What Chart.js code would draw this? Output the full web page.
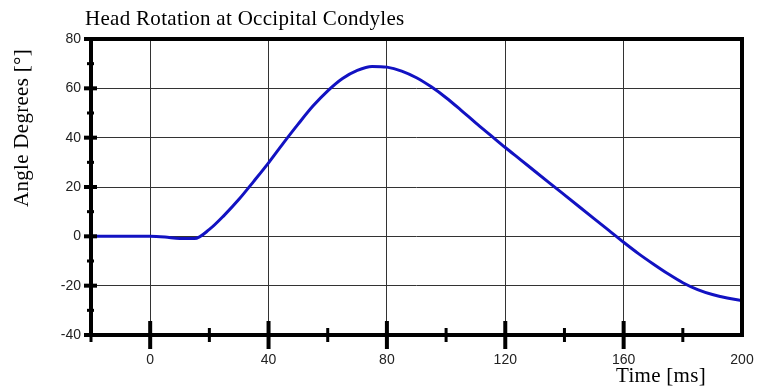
<!DOCTYPE html>
<html>
<head>
<meta charset="utf-8">
<script src="https://cdn.jsdelivr.net/npm/chart.js@4"></script>
<style>
  html, body { margin: 0; padding: 0; background: #fff; }
  #wrap { width: 757px; height: 387px; }
</style>
</head>
<body>
<div id="wrap"><canvas id="rotChart"></canvas></div>
<script>
const timeMs = [-20, -15, -10, -5, 0, 5, 10, 15, 20, 25, 30, 35, 40, 45, 50, 55, 60, 65, 70, 75,
    80, 85, 90, 95, 100, 105, 110, 115, 120, 125, 130, 135, 140, 145, 150, 155, 160, 165, 170,
    175, 180, 185, 190, 195, 200];
const angleDeg = [0, 0, 0, 0, 0, -0.3, -0.9, -0.9, 2.8, 8.5, 15, 22.3, 29.8, 37.8, 45.5, 52.8,
    59, 64, 67.3, 68.9, 68.6, 67, 64.3, 60.6, 56.2, 51.2, 46, 41, 36, 31.2, 26.4, 21.6, 16.8, 12,
    7.2, 2.4, -2.4, -7, -11.2, -15.2, -18.8, -21.6, -23.6, -25, -26];

const xTickValues = [0, 40, 80, 120, 160, 200];
const xMinorTicks = [-20, 20, 60, 100, 140, 180];
const yTickValues = [-40, -20, 0, 20, 40, 60, 80];
const yMinorTicks = [-30, -10, 10, 30, 50, 70];

const chartTitle = 'Head Rotation at Occipital Condyles';
const yTitle = 'Angle Degrees [°]';
const xTitle = 'Time [ms]';

const serif = "'Liberation Serif', 'Times New Roman', serif";
const narrow = "'Liberation Sans Narrow', 'Arial Narrow', sans-serif";

// heavy frame, tick marks and the three titles
const framePlugin = {
    id: 'frame',
    afterDraw(chart) {
        const { ctx, chartArea: a, scales } = chart;
        const xs = scales.x, ys = scales.y;
        ctx.save();
        ctx.strokeStyle = '#000';
        ctx.lineCap = 'butt';

        const line = (x1, y1, x2, y2, w) => {
            ctx.lineWidth = w;
            ctx.beginPath();
            ctx.moveTo(x1, y1);
            ctx.lineTo(x2, y2);
            ctx.stroke();
        };

        // box
        line(a.left - 2, a.top, a.right + 2, a.top, 4);
        line(a.right, a.top, a.right, a.bottom, 4);
        line(a.left - 2, a.bottom, a.right + 2, a.bottom, 4);
        line(a.left, a.top - 2, a.left, a.bottom, 4);

        // y ticks
        yTickValues.forEach(v => {
            const y = ys.getPixelForValue(v);
            line(a.left - 7, y, a.left + 6, y, 4);
        });
        yMinorTicks.forEach(v => {
            const y = ys.getPixelForValue(v);
            line(a.left - 4, y, a.left + 3, y, 3);
        });

        // x ticks
        xTickValues.forEach(v => {
            if (v === 200) return;
            const x = xs.getPixelForValue(v);
            line(x, a.bottom - 14, x, a.bottom + 14, 4);
        });
        xMinorTicks.forEach(v => {
            const x = xs.getPixelForValue(v);
            line(x, a.bottom - 7, x, a.bottom + 7, 3);
        });

        // titles
        ctx.fillStyle = '#000';
        ctx.font = '21px ' + serif;
        ctx.textBaseline = 'alphabetic';
        ctx.textAlign = 'left';
        ctx.letterSpacing = '0.3px';
        ctx.fillText(chartTitle, 85, 25);

        ctx.textAlign = 'center';
        ctx.fillText(xTitle, 661, 382);

        ctx.translate(28, 128);
        ctx.rotate(-Math.PI / 2);
        ctx.fillText(yTitle, 0, 0);
        ctx.restore();
    }
};

new Chart(document.getElementById('rotChart'), {
    type: 'line',
    data: {
        datasets: [{
            data: timeMs.map((t, i) => ({ x: t, y: angleDeg[i] })),
            borderColor: '#1212c2',
            borderWidth: 3,
            pointRadius: 0,
            cubicInterpolationMode: 'monotone',
            fill: false
        }]
    },
    options: {
        animation: false,
        responsive: true,
        maintainAspectRatio: false,
        layout: { padding: { left: 0, right: 15, top: 39, bottom: 0 } },
        plugins: {
            legend: { display: false },
            tooltip: { enabled: false }
        },
        scales: {
            x: {
                type: 'linear',
                min: -20,
                max: 200,
                afterBuildTicks: s => { s.ticks = xTickValues.map(v => ({ value: v })); },
                afterFit: s => {
                    s.height = 52;
                    s.paddingLeft = 0;
                    s.paddingRight = 0;
                },
                grid: { color: '#333', lineWidth: 1, drawTicks: false },
                border: { display: false },
                ticks: {
                    padding: 17,
                    color: '#222',
                    maxRotation: 0,
                    font: { family: narrow, size: 14 }
                }
            },
            y: {
                min: -40,
                max: 80,
                afterBuildTicks: s => { s.ticks = yTickValues.map(v => ({ value: v })); },
                afterFit: s => {
                    s.width = 91;
                    s.paddingTop = 0;
                    s.paddingBottom = 0;
                },
                grid: { color: '#333', lineWidth: 1, drawTicks: false },
                border: { display: false },
                ticks: {
                    padding: 10,
                    color: '#222',
                    font: { family: narrow, size: 14 }
                }
            }
        }
    },
    plugins: [framePlugin]
});
</script>
</body>
</html>
